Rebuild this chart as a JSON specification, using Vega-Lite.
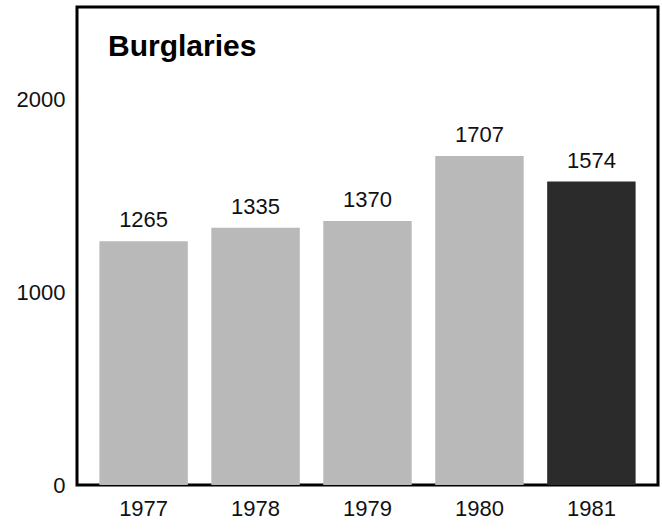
{
  "$schema": "https://vega.github.io/schema/vega-lite/v6.json",
  "width": 581,
  "height": 478,
  "autosize": {"type": "none"},
  "padding": {"left": 77, "top": 7, "right": 4, "bottom": 44},
  "background": "white",
  "config": {
    "font": "Liberation Sans",
    "view": {"stroke": "black", "strokeWidth": 3}
  },
  "title": {
    "text": "Burglaries",
    "anchor": "start",
    "frame": "group",
    "orient": "top",
    "offset": -55,
    "dx": 31,
    "fontSize": 30,
    "fontWeight": "bold",
    "color": "black",
    "font": "Liberation Sans"
  },
  "data": {
    "values": [
      {"year": "1977", "burglaries": 1265, "current": "no"},
      {"year": "1978", "burglaries": 1335, "current": "no"},
      {"year": "1979", "burglaries": 1370, "current": "no"},
      {"year": "1980", "burglaries": 1707, "current": "no"},
      {"year": "1981", "burglaries": 1574, "current": "yes"}
    ]
  },
  "encoding": {
    "x": {
      "field": "year",
      "type": "ordinal",
      "scale": {"paddingInner": 0.21, "paddingOuter": 0.2},
      "axis": {
        "title": null,
        "labelAngle": 0,
        "labelFontSize": 22,
        "labelColor": "#111",
        "labelPadding": 13,
        "domain": false,
        "ticks": false
      }
    },
    "y": {
      "field": "burglaries",
      "type": "quantitative",
      "scale": {"domain": [0, 2480], "nice": false},
      "axis": {
        "title": null,
        "values": [0, 1000, 2000],
        "format": "d",
        "labelFontSize": 22,
        "labelColor": "#111",
        "labelPadding": 12,
        "domain": false,
        "ticks": false,
        "grid": false
      }
    }
  },
  "layer": [
    {
      "mark": {"type": "bar"},
      "encoding": {
        "color": {
          "field": "current",
          "type": "nominal",
          "scale": {"domain": ["no", "yes"], "range": ["#b9b9b9", "#2b2b2b"]},
          "legend": null
        }
      }
    },
    {
      "mark": {"type": "text", "baseline": "alphabetic", "dy": -14, "fontSize": 22, "color": "#111"},
      "encoding": {
        "text": {"field": "burglaries", "type": "quantitative", "format": "d"}
      }
    }
  ]
}
